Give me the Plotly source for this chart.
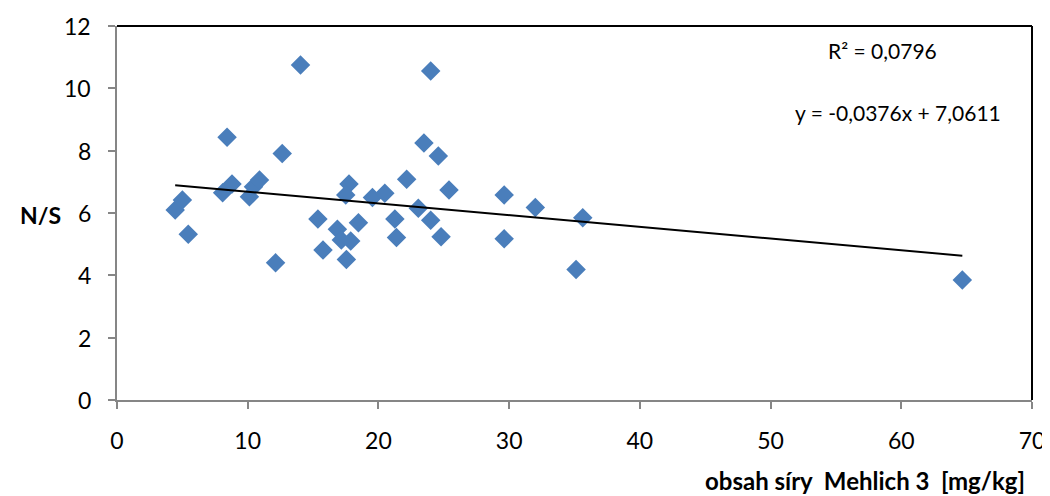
import plotly.graph_objects as go

# Data
x_sulfur = [4.45, 5.0, 5.45, 8.42, 8.08, 8.8, 10.13, 10.44, 10.9, 12.64, 14.04, 12.13,
            15.37, 15.76, 16.86, 17.16, 17.55, 17.88, 17.75, 17.5, 18.47, 19.54, 20.49,
            22.16, 21.26, 21.38, 23.48, 24.0, 24.58, 23.05, 24.0, 24.79, 25.4, 29.62,
            29.62, 32.0, 35.63, 35.12, 64.67]
y_ns = [6.10, 6.42, 5.32, 8.43, 6.65, 6.93, 6.52, 6.84, 7.06, 7.91, 10.75, 4.40,
        5.81, 4.81, 5.48, 5.13, 4.51, 5.10, 6.93, 6.58, 5.69, 6.50, 6.63,
        7.08, 5.81, 5.21, 8.25, 10.56, 7.83, 6.15, 5.77, 5.24, 6.74, 6.58,
        5.17, 6.18, 5.85, 4.19, 3.85]
slope = -0.0376
intercept = 7.0611
x_ticks = [0, 10, 20, 30, 40, 50, 60, 70]
y_ticks = [0, 2, 4, 6, 8, 10, 12]

FONT = "Lato, Open Sans, sans-serif"
AXIS_COL = "#868686"
FS = 23

# page has an 8px body margin; figure sized so it fills the 1050x496 window
OFF = 8
W, H = 1050 - OFF, 496 - OFF
L, R, T, B = 117 - OFF, 18, 26 - OFF, 96
PW, PH = W - L - R, H - T - B


def px(xp):
    return (xp - OFF - L) / PW


def py(yp):
    return (H - B - (yp - OFF)) / PH


trend_x = [min(x_sulfur), max(x_sulfur)]
trend_y = [intercept + slope * v for v in trend_x]

fig = go.Figure()
fig.add_trace(go.Scatter(
    x=x_sulfur, y=y_ns, mode="markers",
    marker=dict(symbol="diamond", size=15, color="#4A7EBB", line=dict(width=0)),
    showlegend=False, hoverinfo="x+y"))
fig.add_trace(go.Scatter(
    x=trend_x, y=trend_y, mode="lines",
    line=dict(color="black", width=2), showlegend=False, hoverinfo="skip"))

# y tick labels placed as annotations (at the axis values) for exact spacing
ytick_anns = [dict(text=str(v), x=px(93), y=v, xref="paper", yref="y",
                   xanchor="right", yanchor="middle", showarrow=False,
                   font=dict(size=FS)) for v in y_ticks]

fig.update_layout(
    width=W, height=H,
    margin=dict(l=L, r=R, t=T, b=B, autoexpand=False),
    paper_bgcolor="white", plot_bgcolor="white",
    font=dict(family=FONT, size=FS, color="black"),
    xaxis=dict(range=[0, 70], tickvals=x_ticks, showgrid=False, zeroline=False,
               showline=True, linecolor=AXIS_COL, linewidth=2, automargin=False,
               ticks="outside", ticklen=7, tickwidth=2, tickcolor=AXIS_COL,
               ticklabelstandoff=12,
               tickfont=dict(size=FS), fixedrange=True),
    yaxis=dict(range=[0, 12], tickvals=y_ticks, showgrid=False, zeroline=False,
               showline=True, linecolor=AXIS_COL, linewidth=2, automargin=False,
               ticks="outside", ticklen=7, tickwidth=2, tickcolor=AXIS_COL,
               showticklabels=False, fixedrange=True),
    shapes=[
        dict(type="line", xref="paper", yref="paper", x0=0, x1=1, y0=1, y1=1,
             line=dict(color="black", width=2)),
        dict(type="line", xref="paper", yref="paper", x0=1, x1=1, y0=0, y1=1,
             line=dict(color="black", width=2)),
    ],
    annotations=ytick_anns + [
        dict(text="R² = 0,0796", x=px(882), y=py(50), xanchor="center", yanchor="middle",
             xref="paper", yref="paper", showarrow=False, font=dict(size=21)),
        dict(text="y = -0,0376x + 7,0611", x=px(898), y=py(112),
             xanchor="center", yanchor="middle",
             xref="paper", yref="paper", showarrow=False, font=dict(size=21)),
        dict(text="<b>N/S</b>", x=px(40), y=py(215), xanchor="center", yanchor="middle",
             xref="paper", yref="paper", showarrow=False, font=dict(size=FS)),
        dict(text="<b>obsah síry\u00a0\u00a0Mehlich\u00a03\u00a0\u00a0[mg/kg]</b>",
             x=px(1027), y=py(480), xanchor="right", yanchor="middle",
             xref="paper", yref="paper", showarrow=False, font=dict(size=24)),
    ],
)

fig.write_html("out.html")
